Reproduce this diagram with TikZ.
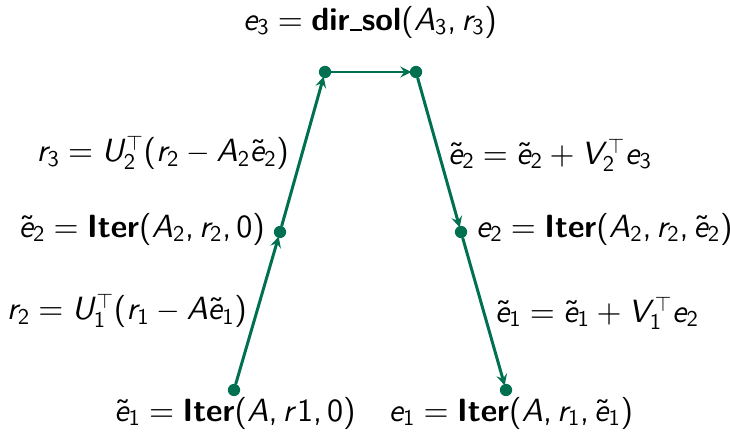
\documentclass[tikz,border=0pt]{standalone}
% sans math in the style of beamer slides
\DeclareFontFamily{OT1}{sfm}{}
\DeclareFontShape{OT1}{sfm}{m}{n}{<-> cmss10}{}
\DeclareFontShape{OT1}{sfm}{m}{sl}{<-> cmssi10}{}
\SetSymbolFont{operators}{normal}{OT1}{sfm}{m}{n}
\SetSymbolFont{letters}{normal}{OT1}{sfm}{m}{sl}
\DeclareMathSymbol{,}{\mathpunct}{operators}{"2C}
\definecolor{vgreen}{RGB}{0,112,80}
\tikzset{
  pt/.style={circle, fill=vgreen, inner sep=0pt, minimum size=7pt},
  lnk/.style={->, vgreen, line width=1.7pt, shorten >=-1pt},
  lbl/.style={font=\fontsize{18.3}{22}\selectfont\sffamily, inner sep=1pt}
}
\newcommand{\opbf}[1]{\mbox{\bfseries #1}}
\newcommand{\usc}{\rule[-0.04ex]{0.38em}{0.1ex}}
\begin{document}
\begin{tikzpicture}[>=stealth, x=0.02cm, y=-0.02cm, line join=round, line cap=round]
	\useasboundingbox (0,0) rectangle (730,435);
	
	% points of the cycle
	\node[pt] (L1) at (234,390) {};
	\node[pt] (L2) at (280,232) {};
	\node[pt] (L3) at (325,72) {};
	\node[pt] (R3) at (416,72) {};
	\node[pt] (R2) at (461,232) {};
	\node[pt] (R1) at (506,390) {};
	
	% connectors
	\draw[lnk] (L1) -- (L2);
	\draw[lnk] (L2) -- (L3);
	\draw[lnk] (L3) -- (R3);
	\draw[lnk] (R3) -- (R2);
	\draw[lnk] (R2) -- (R1);
	
	% labels
	\node[lbl] (top) at (370,22) {$e_3 = \opbf{dir\usc sol}(A_3, r_3)$};
	\node[lbl, anchor=east] (l3) at (291,153) {$r_3 = U_2^\top(r_2 - A_2\tilde{e}_2)$};
	\node[lbl, anchor=east] (l2) at (267,229) {$\tilde{e}_2 = \opbf{Iter}(A_2, r_2, 0)$};
	\node[lbl, anchor=east] (l1) at (249,311) {$r_2 = U_1^\top(r_1 - A\tilde{e}_1)$};
	\node[lbl] (b1) at (235,413) {$\tilde{e}_1 = \opbf{Iter}(A, r1, 0)$};
	\node[lbl] (b2) at (511,413) {$e_1 = \opbf{Iter}(A, r_1, \tilde{e}_1)$};
	\node[lbl, anchor=west] (r3) at (446,155) {$\tilde{e}_2 = \tilde{e}_2 + V_2^\top e_3$};
	\node[lbl, anchor=west] (r2) at (474,229) {$e_2 = \opbf{Iter}(A_2, r_2, \tilde{e}_2)$};
	\node[lbl, anchor=west] (r1) at (493,313) {$\tilde{e}_1 = \tilde{e}_1 + V_1^\top e_2$};
\end{tikzpicture}
\end{document}
